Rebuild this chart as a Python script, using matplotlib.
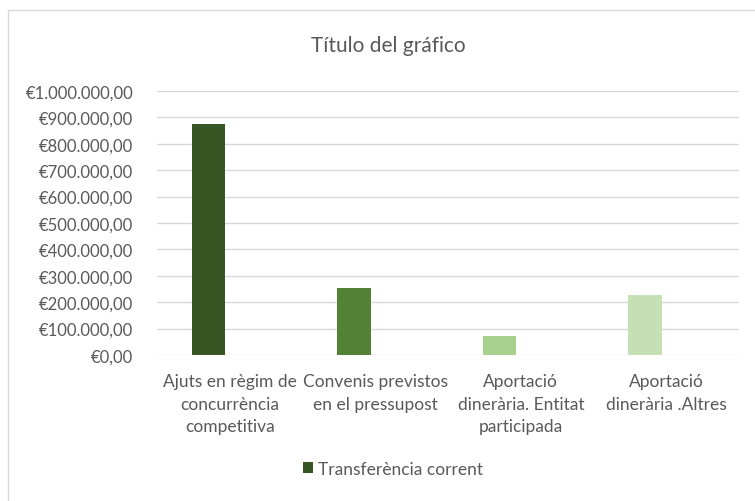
import matplotlib
matplotlib.use("Agg")
import matplotlib.pyplot as plt
from matplotlib.patches import Rectangle, Patch
from matplotlib.ticker import FuncFormatter

categories = ["Ajuts en règim de\nconcurrència\ncompetitiva",
              "Convenis previstos\nen el pressupost",
              "Aportació\ndinerària. Entitat\nparticipada",
              "Aportació\ndinerària .Altres"]
values = [875000, 253000, 72000, 227000]
bar_colors = ["#375623", "#538135", "#A9D18E", "#C5E0B4"]
series_name = "Transferència corrent"
title = "Título del gráfico"
yticks = list(range(0, 1000001, 100000))

plt.rcParams['font.family'] = ['Lato', 'DejaVu Sans']
text_color = "#595959"

W, H = 755, 502
fig = plt.figure(figsize=(W / 100, H / 100), dpi=100)
fig.patch.set_facecolor("white")

# outer chart border (left/top visible)
fig.patches.append(Rectangle((8 / W, -0.1), 1.2, (H - 11) / H + 0.1, transform=fig.transFigure,
                             fill=False, edgecolor="#D9D9D9", linewidth=1.0))

ax = fig.add_axes([157 / W, (H - 356) / H, (739 - 157) / W, (356 - 92) / H])
x = list(range(len(categories)))
offset = -0.146
ax.bar([xi + offset for xi in x], values, width=0.227, color=bar_colors, zorder=3)

ax.set_xlim(-0.5, len(categories) - 0.5)
ax.set_ylim(0, 1000000)
ax.set_yticks(yticks)


def euro(v, pos):
    s = "{:,.2f}".format(v)
    s = s.replace(",", "X").replace(".", ",").replace("X", ".")
    return "€" + s


ax.yaxis.set_major_formatter(FuncFormatter(euro))
ax.grid(axis="y", color="#D9D9D9", linewidth=1.0, zorder=0)
ax.set_xticks(x)
ax.set_xticklabels(categories, linespacing=1.5)
for s in ax.spines.values():
    s.set_visible(False)
ax.tick_params(axis="y", length=0, pad=17, labelsize=12, labelcolor=text_color)
ax.tick_params(axis="x", length=0, pad=13, labelsize=12.5, labelcolor=text_color)

fig.text(388 / W, 1 - 46 / H, title, ha="center", va="center", fontsize=15, color=text_color)

handle = Patch(facecolor=bar_colors[0], edgecolor="none")
fig.legend([handle], [series_name], loc="center", bbox_to_anchor=(393 / W, 1 - 470 / H),
           frameon=False, fontsize=12.5, handlelength=0.6, handleheight=0.6,
           handletextpad=0.3, labelcolor=text_color)

fig.savefig("out.png", dpi=100, facecolor="white")
